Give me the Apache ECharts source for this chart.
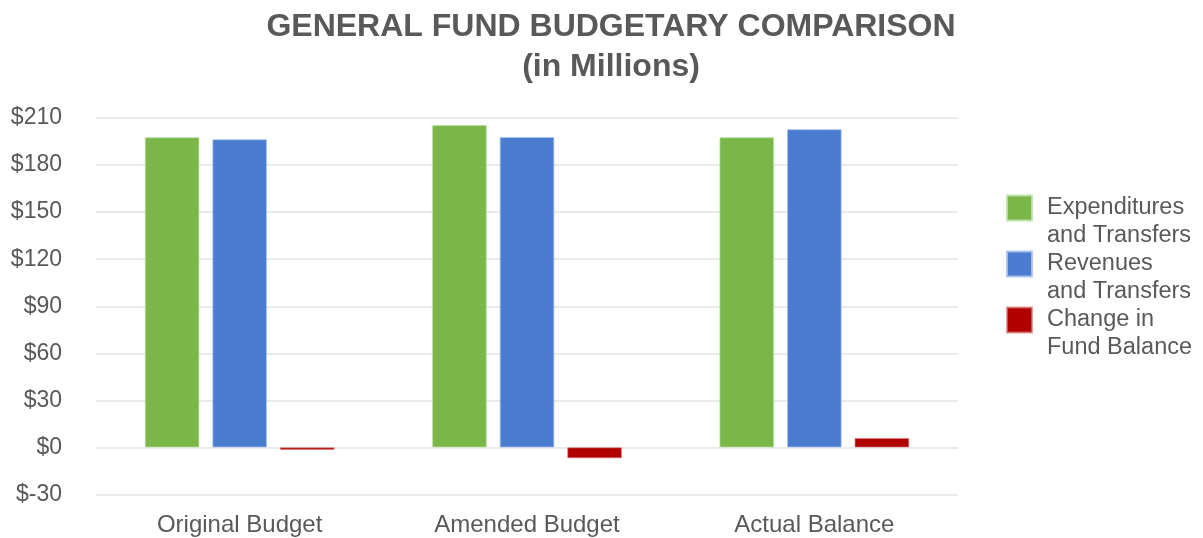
<!DOCTYPE html>
<html>
<head>
<meta charset="utf-8">
<title>General Fund Budgetary Comparison</title>
<script src="https://cdn.jsdelivr.net/npm/echarts@6/dist/echarts.min.js"></script>
<style>
  html, body { margin: 0; padding: 0; background: #ffffff; }
  #chart { width: 1203px; height: 538px; }
</style>
</head>
<body>
<div id="chart"></div>
<script>
// Budget stages along the x axis
const categories = ['Original Budget', 'Amended Budget', 'Actual Balance'];

// Amounts in millions of dollars
const expenditures = [197.7, 205.5, 197.7];
const revenues = [196.4, 197.9, 202.8];
const changeInBalance = [-1.5, -6.9, 5.9];

// Y axis range and step (millions)
const yMin = -30;
const yMax = 210;
const yStep = 30;

const seriesNames = [
  'Expenditures and Transfers',
  'Revenues and Transfers',
  'Change in Fund Balance'
];
// Legend entries wrap onto two lines; a leading blank line keeps the
// first line level with the colour swatch.
const legendLines = {
  'Expenditures and Transfers': ' \nExpenditures\nand Transfers',
  'Revenues and Transfers': ' \nRevenues\nand Transfers',
  'Change in Fund Balance': ' \nChange in\nFund Balance'
};

const textColor = '#595959';
const fontFamily = '"Liberation Sans", Arial, Helvetica, sans-serif';

const chart = echarts.init(document.getElementById('chart'), null, { renderer: 'canvas' });

function barSeries(name, data, color, border) {
  return {
    name: name,
    type: 'bar',
    data: data,
    barGap: '24%',
    barCategoryGap: '34%',
    itemStyle: { color: color, borderColor: border, borderWidth: 0.8 },
    emphasis: { disabled: true }
  };
}

chart.setOption({
  animation: false,
  backgroundColor: '#ffffff',
  textStyle: { fontFamily: fontFamily },
  title: {
    text: 'GENERAL FUND BUDGETARY COMPARISON\n(in Millions)',
    left: 606,
    textAlign: 'center',
    top: 2,
    textStyle: {
      color: textColor,
      fontFamily: fontFamily,
      fontWeight: 'bold',
      fontSize: 32,
      lineHeight: 40
    }
  },
  legend: {
    orient: 'vertical',
    left: 1006,
    top: 166,
    padding: 0,
    itemWidth: 25,
    itemHeight: 25,
    itemGap: -28,
    icon: 'rect',
    selectedMode: false,
    data: seriesNames,
    formatter: function (name) { return legendLines[name]; },
    textStyle: {
      color: textColor,
      fontFamily: fontFamily,
      fontSize: 23.5,
      lineHeight: 28,
      padding: [0, 0, 0, 10]
    }
  },
  grid: {
    left: 96,
    right: 245,
    top: 118,
    bottom: 43.5,
    containLabel: false
  },
  xAxis: {
    type: 'category',
    data: categories,
    axisLine: { show: false },
    axisTick: { show: false },
    axisLabel: {
      color: textColor,
      fontFamily: fontFamily,
      fontSize: 24,
      margin: 19
    }
  },
  yAxis: {
    type: 'value',
    min: yMin,
    max: yMax,
    interval: yStep,
    axisLine: { show: false },
    axisTick: { show: false },
    splitLine: { lineStyle: { color: '#e3e3e3', width: 1.5 } },
    axisLabel: {
      color: textColor,
      fontFamily: fontFamily,
      fontSize: 23,
      margin: 34,
      formatter: function (v) { return '$' + v; }
    }
  },
  series: [
    barSeries(seriesNames[0], expenditures, '#7ab648', 'rgba(190,225,170,0.9)'),
    barSeries(seriesNames[1], revenues, '#4a7dd0', 'rgba(170,195,240,0.9)'),
    barSeries(seriesNames[2], changeInBalance, '#b00000', 'rgba(215,120,120,0.7)')
  ]
});
</script>
</body>
</html>
